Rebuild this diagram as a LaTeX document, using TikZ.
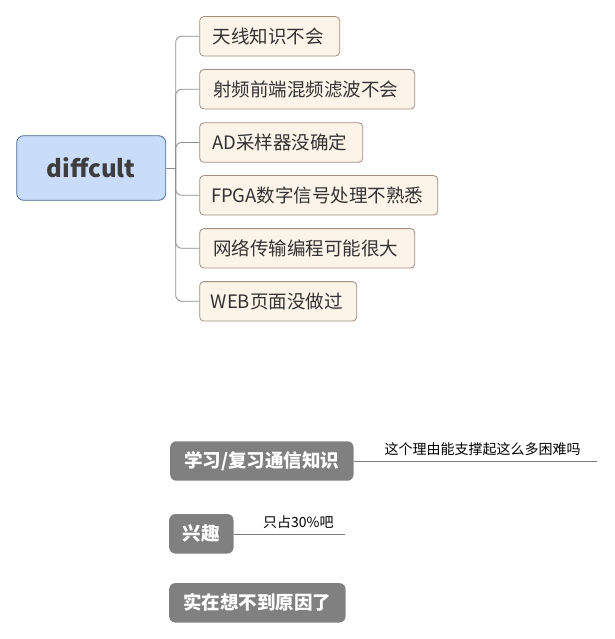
\documentclass[tikz,border=0pt]{standalone}
\usepackage{fontspec}
\setmainfont{Noto Sans CJK SC}
\begin{document}
\begin{tikzpicture}[x=1pt,y=-1pt,
  rootbox/.style={draw=rootborder,fill=rootfill,line width=0.8pt,rounded corners=7pt,
    minimum width=149pt,minimum height=64.6pt,inner sep=0pt,
    font=\fontsize{24}{28}\selectfont\bfseries,text=roottext},
  leafbox/.style={draw=leafborder,fill=leaffill,line width=0.8pt,rounded corners=4pt,
    minimum height=39.4pt,inner sep=0pt,anchor=west,
    font=\fontsize{18.5}{22}\selectfont,text=leaftext},
  greybox/.style={fill=greyfill,rounded corners=6pt,
    minimum height=39.4pt,inner sep=0pt,anchor=west,
    font=\fontsize{18.5}{22}\selectfont\bfseries,text=white},
  note/.style={inner sep=0pt,font=\fontsize{14}{16}\selectfont,text=black},
  conn/.style={draw=connline,line width=0.8pt,rounded corners=6pt},
  noteline/.style={draw=noteline,line width=0.8pt}]
\definecolor{rootborder}{HTML}{4F6D96}
\definecolor{rootfill}{HTML}{C9DDFA}
\definecolor{roottext}{HTML}{3D3D3D}
\definecolor{leafborder}{HTML}{A48F80}
\definecolor{leaffill}{HTML}{FCF3E9}
\definecolor{leaftext}{HTML}{333333}
\definecolor{greyfill}{HTML}{808080}
\definecolor{connline}{HTML}{8C8C8C}
\definecolor{noteline}{HTML}{7A7A7A}
\useasboundingbox[fill=white] (0,0) rectangle (614,639);

\node[rootbox] (d) at (91.2,168) {diffcult};
\coordinate (j) at (175.7,168);

\node[leafbox,minimum width=140pt] (c1) at (199.3,36.3) {\hspace{-3pt}天线知识不会};
\node[leafbox,minimum width=215pt] (c2) at (199.3,89.3) {\hspace{-3pt}射频前端混频滤波不会};
\node[leafbox,minimum width=163pt] (c3) at (199.3,142.5) {\hspace{-3pt}AD采样器没确定};
\node[leafbox,minimum width=238pt] (c4) at (199.3,195.3) {\hspace{-3pt}FPGA数字信号处理不熟悉};
\node[leafbox,minimum width=215pt] (c5) at (199.3,248.3) {\hspace{-3pt}网络传输编程可能很大};
\node[leafbox,minimum width=157pt] (c6) at (199.3,301.3) {\hspace{-3pt}WEB页面没做过};

\draw[conn] (d.east) -- (j);
\foreach \c in {c1,c2,c3,c4,c5,c6} {
  \draw[conn] (j) |- (\c.west);
}

\node[greybox,minimum width=183.3pt] (b1) at (170,461) {学习/复习通信知识};
\node[greybox,minimum width=64.3pt] (b2) at (169,533.8) {兴趣};
\node[greybox,minimum width=176.3pt] (b3) at (169,602.8) {实在想不到原因了};

\coordinate (e1) at (597.3,461.3);
\coordinate (e2) at (345,534.3);
\draw[noteline] (b1.east |- e1) -- (e1);
\draw[noteline] (b2.east |- e2) -- (e2);
\node[note] (n1) at (482.5,449) {这个理由能支撑起这么多困难吗};
\node[note] (n2) at (298.3,521.7) {只占30\%吧};
\end{tikzpicture}
\end{document}
